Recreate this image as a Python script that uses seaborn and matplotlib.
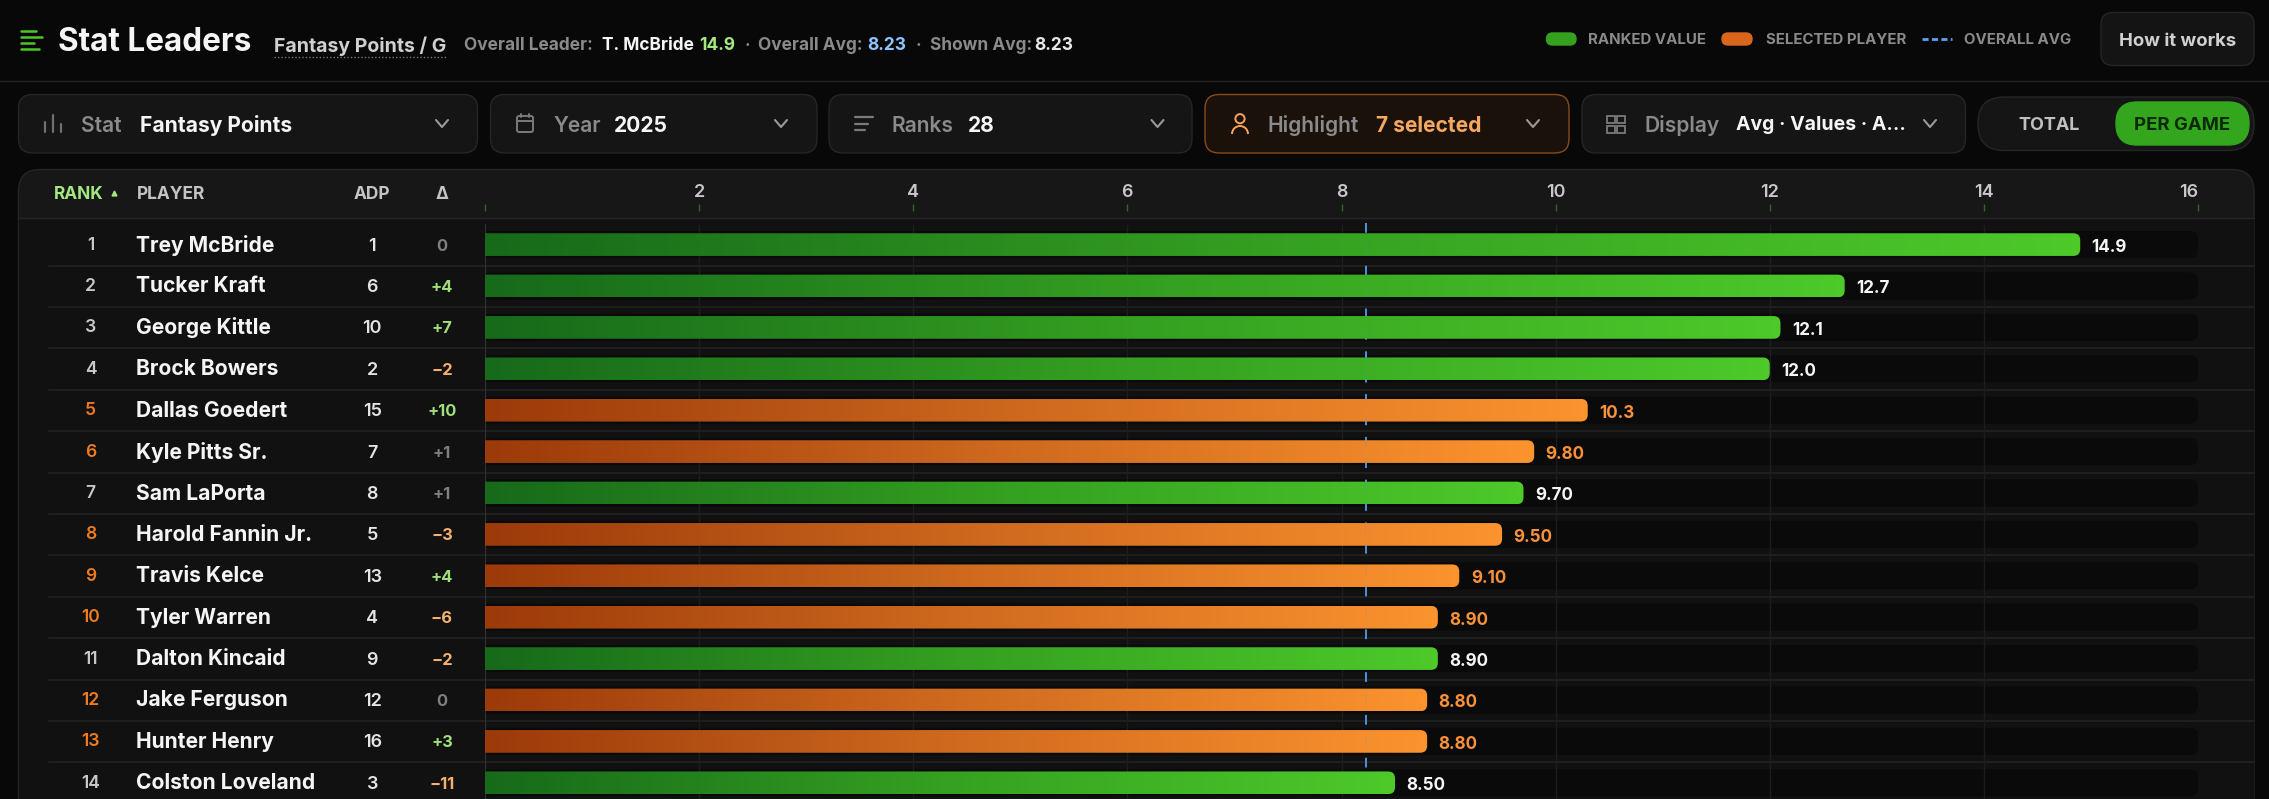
import numpy as np
import pandas as pd
import matplotlib.pyplot as plt
import seaborn as sns
from matplotlib.colors import LinearSegmentedColormap
from matplotlib.patches import FancyBboxPatch, Rectangle, Circle, Arc

# chart data
players = ['Trey McBride', 'Tucker Kraft', 'George Kittle', 'Brock Bowers', 'Dallas Goedert',
           'Kyle Pitts Sr.', 'Sam LaPorta', 'Harold Fannin Jr.', 'Travis Kelce', 'Tyler Warren',
           'Dalton Kincaid', 'Jake Ferguson', 'Hunter Henry', 'Colston Loveland']
values = [14.9, 12.7, 12.1, 12.0, 10.3, 9.8, 9.7, 9.5, 9.1, 8.9, 8.9, 8.8, 8.8, 8.5]
ranks = list(range(1, 15))
adp = [1, 6, 10, 2, 15, 7, 8, 5, 13, 4, 9, 12, 16, 3]
deltas = [0, 4, 7, -2, 10, 1, 1, -3, 4, -6, -2, 0, 3, -11]
selected = [False, False, False, False, True, True, False, True, True, True, False, True, True, False]
overall_avg = 8.23
x_ticks = [0, 2, 4, 6, 8, 10, 12, 14, 16]

W, H = 2269, 799
BG = '#080808'
CARD = '#151515'
CARD_EDGE = '#262626'
GRAY = '#8a8a8a'
LIGHT = '#d0d0d0'
WHITE = '#f5f5f5'
GREEN = '#4cc729'
ORANGE = '#f07a1f'

sns.set_theme(style='dark')
plt.rcParams['font.family'] = ['Inter', 'DejaVu Sans']

fig = plt.figure(figsize=(W / 100, H / 100), dpi=100, facecolor=BG)

# chrome layer in pixel coordinates
ui = fig.add_axes([0, 0, 1, 1], zorder=0)
ui.set_xlim(0, W)
ui.set_ylim(H, 0)
ui.axis('off')


def label(x, y, s, px, color=WHITE, weight='bold', ha='left', target=None):
    (target or ui).text(x, y, s, fontsize=px * 0.72, color=color, fontweight=weight,
                        ha=ha, va='center_baseline')


def card(x0, x1, y0, y1, r=14, fc=CARD, ec=CARD_EDGE, lw=1.0):
    ui.add_patch(FancyBboxPatch((x0, y0), x1 - x0, y1 - y0, boxstyle=f'round,pad=0,rounding_size={r}',
                                fc=fc, ec=ec, lw=lw))


def chevron(x, y=123.5, color='#9a9a9a'):
    ui.plot([x - 6, x, x + 6], [y - 3.5, y + 3.5, y - 3.5], color=color, lw=1.5)


def segs(items, color, lw=1.6):
    for x0, x1, y0, y1 in items:
        ui.plot([x0, x1], [y0, y1], color=color, lw=lw, solid_capstyle='round')


# top header
segs([(21, 36, 31, 31), (21, 42, 36.7, 36.7), (21, 34, 42.5, 42.5), (21, 39, 48.5, 48.5)], GREEN, 1.8)
label(58, 39, 'Stat Leaders', 31.5)
label(274, 44, 'Fantasy Points / G', 19.5, LIGHT)
ui.plot([274, 446], [57, 57], color='#777777', lw=1, ls=(0, (1, 1.5)))
label(464, 44, 'Overall Leader:', 17.3, GRAY)
label(601.5, 44, 'T. McBride', 17.3, WHITE)
label(699, 44, '14.9', 17.3, '#a0e87f')
label(745, 44, '·', 17.3, GRAY)
label(758, 44, 'Overall Avg:', 17.3, GRAY)
label(867, 44, '8.23', 17.3, '#8cc4ff')
label(916, 44, '·', 17.3, GRAY)
label(930, 44, 'Shown Avg:', 17.3, GRAY)
label(1034, 44, '8.23', 17.3, '#e8e8e8')
ui.plot([0, W], [81, 81], color='#222222', lw=1)

# legend
card(1546.5, 1576, 33, 45, r=6, fc='#35a21f', ec='#35a21f')
label(1588.5, 39, 'RANKED VALUE', 15, GRAY)
card(1722, 1752, 33, 45, r=6, fc='#d9661c', ec='#d9661c')
label(1765.5, 39, 'SELECTED PLAYER', 15, GRAY)
ui.plot([1921.5, 1951.5], [39, 39], color='#5aa0f5', lw=2, ls=(0, (2.2, 1.2)))
label(1963.5, 39, 'OVERALL AVG', 15, GRAY)
card(2101, 2254, 12.5, 65.5, r=12, fc='#141414')
label(2177.5, 39, 'How it works', 18.5, LIGHT, ha='center')

# control row
card(18.5, 477.5, 94.5, 153)
card(490.5, 817, 94.5, 153)
card(829, 1192, 94.5, 153)
card(1205, 1569, 94.5, 153, fc='#1a110b', ec='#8a4a1a')
card(1582, 1965.5, 94.5, 153)
card(1978, 2254, 97, 150.5, r=26)
card(2116, 2249, 102, 145, r=21, fc='#34a61e', ec='#34a61e')

for x, s1, x2, s2, c2, size2 in [(81, 'Stat', 139.5, 'Fantasy Points', WHITE, 21),
                                 (553.5, 'Year', 613.5, '2025', WHITE, 21),
                                 (891.5, 'Ranks', 967.5, '28', WHITE, 21),
                                 (1267.5, 'Highlight', 1375.5, '7 selected', '#f7a860', 21),
                                 (1645, 'Display', 1736.5, 'Avg · Values · A…', WHITE, 19.5)]:
    label(x, 123.5, s1, 21, GRAY, weight='semibold')
    label(x2, 123.5, s2, size2, c2)
for x in [442, 781, 1157.5, 1533, 1930]:
    chevron(x)
label(2049, 124, 'TOTAL', 18, '#c0c0c0', ha='center')
label(2182.5, 124, 'PER GAME', 18.5, '#0b2a08', ha='center')

# control icons
segs([(44.5, 44.5, 122, 132), (53, 53, 115, 132), (60.5, 60.5, 124, 132)], '#6f6f6f')
ui.add_patch(FancyBboxPatch((517, 116), 16, 16, boxstyle='round,pad=0,rounding_size=2', fc='none', ec='#7a7a7a', lw=1.4))
segs([(517, 533, 120.5, 120.5), (521, 521, 114, 117), (529, 529, 114, 117)], '#7a7a7a', 1.4)
segs([(855, 872.5, 117, 117), (855, 868, 124, 124), (855, 865, 129.5, 129.5)], '#7a7a7a')
ui.add_patch(Circle((1240, 118.7), 4.6, fc='none', ec='#f5a55e', lw=1.4))
ui.add_patch(Arc((1240, 134), 16, 16, theta1=180, theta2=360, ec='#f5a55e', lw=1.4))
for ix in (1607, 1617):
    for iy in (116, 126):
        ui.add_patch(Rectangle((ix, iy), 7.5, 6.5, fc='none', ec='#7a7a7a', lw=1.3))

# table panel
card(18.5, 2254, 169.5, 860, r=22, fc='#171717')
ui.add_patch(Rectangle((19, 217.5), 2234.5, H - 217.5, fc='#111111', ec='none'))
ui.plot([18.5, 2254], [217.5, 217.5], color='#262626', lw=1)

label(53.5, 192.5, 'RANK', 17.3, '#a3e87f')
ui.plot([113.5], [192.5], marker='^', ms=3.5, color='#a3e87f', ls='none')
label(136.5, 192.5, 'PLAYER', 17.3, '#c4c4c4')
label(372.3, 192.5, 'ADP', 17.3, '#c4c4c4', ha='center')
label(442, 192.5, 'Δ', 17.3, '#c4c4c4', ha='center')

# row text and separators
row_y = 244.6
row_h = 41.4
for i, player in enumerate(players):
    y = row_y + i * row_h
    ui.plot([48.5, 2254], [y + 21, y + 21], color='#232323', lw=1.2)
    d = deltas[i]
    if abs(d) <= 1:
        dc = '#808080'
    elif d > 0:
        dc = '#9fe07a'
    else:
        dc = '#f5b070'
    ds = f'+{d}' if d > 0 else (f'\u2212{-d}' if d < 0 else '0')
    label(90.5, y - 1.5, str(ranks[i]), 17.5, ORANGE if selected[i] else '#c8c8c8', weight='semibold', ha='center')
    label(136.5, y - 1.5, player, 21, WHITE)
    label(372.3, y - 0.5, str(adp[i]), 18, '#e4e4e4', weight='semibold', ha='center')
    label(442, y, ds, 16.5, dc, ha='center')

# bars
df = pd.DataFrame({'player': players, 'value': values,
                   'group': ['selected' if s else 'ranked' for s in selected]})

ax = fig.add_axes([485 / W, 0, (2198 - 485) / W, (H - 211) / H], zorder=2)
ax.patch.set_alpha(0)
sns.barplot(data=df, x='value', y='player', hue='group', dodge=False, width=22.7 / row_h,
            palette={'ranked': GREEN, 'selected': ORANGE}, legend=False, ax=ax, zorder=3)

green_map = LinearSegmentedColormap.from_list('ranked', ['#176a1a', '#35a021', '#4dc92a'])
orange_map = LinearSegmentedColormap.from_list('picked', ['#9c3a0a', '#cf6a1f', '#fb932e'])
ramp = np.linspace(0, 1, 256).reshape(1, -1)

y_top = (211 - row_y) / row_h
y_bot = (H - row_y) / row_h
px_x = (2198 - 485) / 16
aspect = px_x / row_h
ax.set_xlim(0, 16)

bar_boxes = [p for p in ax.patches if p.get_width() > 0]
for p in bar_boxes:
    p.set_visible(False)
    row = int(round(p.get_y() + p.get_height() / 2))
    yy, h, w = p.get_y(), p.get_height(), p.get_width()

    track = FancyBboxPatch((-0.3, row - 13.6 / row_h), 16.3, 27.2 / row_h, mutation_aspect=aspect,
                           boxstyle=f'round,pad=0,rounding_size={8 / px_x}', fc='#0a0a0a', ec='none', zorder=1)
    ax.add_patch(track)

    shape = FancyBboxPatch((-0.3, yy), w + 0.3, h, mutation_aspect=aspect,
                           boxstyle=f'round,pad=0,rounding_size={7 / px_x}', fc='none', ec='none', zorder=4)
    ax.add_patch(shape)
    img = ax.imshow(ramp, extent=(0, w, yy + h, yy), aspect='auto', zorder=3,
                    cmap=orange_map if selected[row] else green_map, interpolation='bilinear')
    img.set_clip_path(shape)

    text_color = '#f9913a' if selected[row] else WHITE
    text = f'{w:.1f}' if w >= 10 else f'{w:.2f}'
    ax.text(w + 11.5 / px_x, row + 0.02, text, fontsize=17 * 0.72, fontweight='bold', color=text_color,
            ha='left', va='center_baseline', zorder=5)

# grid, baseline and average marker
ax.vlines(x_ticks[1:-1], (224 - row_y) / row_h, y_bot, color='#1d1d1d', lw=1, zorder=2)
ax.vlines(0, (224 - row_y) / row_h, y_bot, color='#333333', lw=1.5, zorder=2)
ax.vlines(overall_avg, (223 - row_y) / row_h, y_bot, color='#4f92e0', lw=1.4,
          linestyles=[(0, (5, 6))], zorder=2.5)
ax.vlines(overall_avg, (223 - row_y) / row_h, y_bot, color='#4f92e0', lw=1.4, alpha=0.12,
          linestyles=[(0, (5, 6))], zorder=4.5)

ax.set_ylim(y_bot, y_top)
ax.set_xlim(0, 16)
ax.xaxis.tick_top()
ax.set_xticks(x_ticks)
ax.set_xticklabels([''] + [str(t) for t in x_ticks[1:]], fontsize=18 * 0.72, fontweight='semibold', color='#c8c8c8')
ax.get_xticklabels()[-1].set_ha('right')
ax.tick_params(axis='x', top=True, length=5, width=1, color='#2a6b1e', pad=2.5, direction='out')
ax.set_yticks([])
ax.set_xlabel('')
ax.set_ylabel('')
ax.grid(False)
sns.despine(ax=ax, left=True, bottom=True, top=True, right=True)

fig.savefig('out.png', dpi=100, facecolor=BG)
